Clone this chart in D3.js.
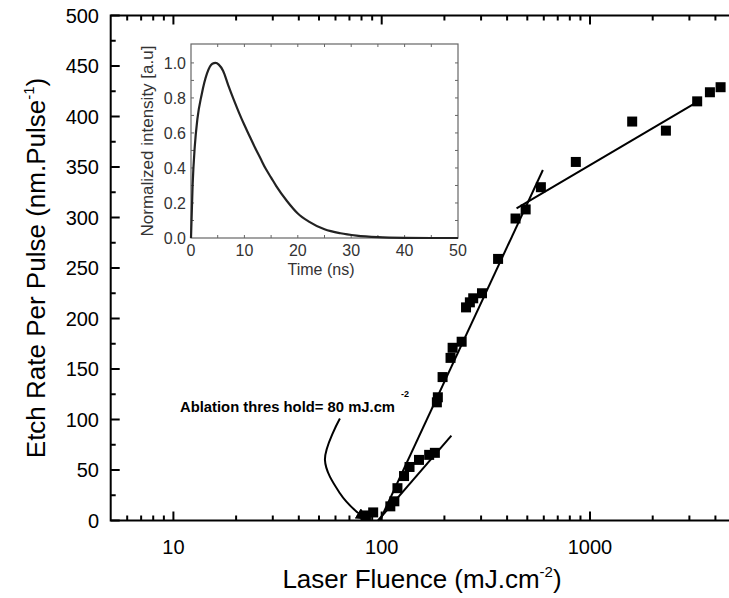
<!DOCTYPE html>
<html><head><meta charset="utf-8">
<script src="https://cdn.jsdelivr.net/npm/d3@7"></script>
<style>html,body{margin:0;padding:0;background:#fff;} svg{display:block;}</style>
</head><body>
<svg id="c" width="729" height="598"></svg>
<script>
// ---- data ----
const fluence = [84, 91, 110, 115, 119, 128, 136, 151, 169, 180, 184, 186, 196, 214, 219, 242, 254, 265, 275, 303, 362, 439, 491, 581, 855, 1594, 2314, 3270, 3764, 4236];
const etchRate = [5, 8, 14, 19, 32, 44, 53, 60, 65, 67, 117, 122, 142, 161, 171, 177, 211, 216, 220, 225, 259, 299, 308, 330, 355, 395, 386, 415, 424, 429];
const lowFitX = [96, 216], lowFitY = [0, 84];
const steepFitX = [98, 594], steepFitY = [0, 347];
const highFitX = [444, 3370], highFitY = [309, 416];
const arrowX = [63, 53.4, 63, 75.8, 85], arrowY = [101, 60, 27, 8.7, 1.5];
const xMajor = [10, 100, 1000];
const xTickLabels = ["10", "100", "1000"];
const yMajor = [0, 50, 100, 150, 200, 250, 300, 350, 400, 450, 500];
// inset pulse
const pulseT = [0, 0.3, 0.7, 1.2, 2, 3, 4, 4.6, 5.2, 6, 7, 8, 9, 10, 11, 12, 13, 14, 15, 16, 18, 20, 22, 25, 28, 31, 35, 40, 45, 50];
const pulseI = [0, 0.3, 0.52, 0.68, 0.82, 0.94, 0.995, 1.0, 0.99, 0.955, 0.87, 0.79, 0.715, 0.645, 0.58, 0.515, 0.455, 0.395, 0.345, 0.295, 0.21, 0.14, 0.095, 0.05, 0.027, 0.014, 0.005, 0.001, 0, 0];
const insetXTicks = [0, 10, 20, 30, 40, 50];
const insetYTicks = [0, 0.2, 0.4, 0.6, 0.8, 1.0];

const svg = d3.select("#c");
const font = "'Liberation Sans', Arial, sans-serif";
const L = 110.7, R = 735.6, T = 15.5, B = 520.5;
const x = d3.scaleLog().domain([5, 5000]).range([L, R]);
const y = d3.scaleLinear().domain([0, 500]).range([B, T]);

const xMinor = [];
[1, 10, 100, 1000].forEach(d => { for (let k = 2; k <= 9; k++) { const v = d * k; if (v > 5 && v < 5000) xMinor.push(v); } });
const yMinor = d3.range(25, 500, 50);

const g = svg.append("g");
g.append("rect").attr("x", L).attr("y", T).attr("width", R - L).attr("height", B - T)
  .attr("fill", "none").attr("stroke", "#000").attr("stroke-width", 2);

function xt(vals, len) {
  g.selectAll(null).data(vals).enter().append("line")
    .attr("x1", d => x(d)).attr("x2", d => x(d)).attr("y1", B).attr("y2", B - len)
    .attr("stroke", "#000").attr("stroke-width", 2);
  g.selectAll(null).data(vals).enter().append("line")
    .attr("x1", d => x(d)).attr("x2", d => x(d)).attr("y1", T).attr("y2", T + len)
    .attr("stroke", "#000").attr("stroke-width", 2);
}
xt(xMajor, 9); xt(xMinor, 5);
function yt(vals, len) {
  g.selectAll(null).data(vals).enter().append("line")
    .attr("x1", L).attr("x2", L + len).attr("y1", d => y(d)).attr("y2", d => y(d))
    .attr("stroke", "#000").attr("stroke-width", 2);
}
yt(yMajor, 9); yt(yMinor, 5);

g.selectAll(null).data(xMajor).enter().append("text")
  .attr("x", d => x(d)).attr("y", 554).attr("text-anchor", "middle")
  .attr("font-family", font).attr("font-size", 20).text((d, i) => xTickLabels[i]);
g.selectAll(null).data(yMajor).enter().append("text")
  .attr("x", 99).attr("y", d => y(d) + 7).attr("text-anchor", "end")
  .attr("font-family", font).attr("font-size", 20).text(d => d);

const xt1 = svg.append("text").attr("x", 422).attr("y", 588).attr("text-anchor", "middle")
  .attr("font-family", font).attr("font-size", 26);
xt1.append("tspan").text("Laser Fluence (mJ.cm");
xt1.append("tspan").attr("font-size", 15).attr("dy", -11).text("-2");
xt1.append("tspan").attr("dy", 11).text(")");
const yt1 = svg.append("text").attr("transform", "translate(45,268) rotate(-90)").attr("text-anchor", "middle")
  .attr("font-family", font).attr("font-size", 26);
yt1.append("tspan").text("Etch Rate Per Pulse (nm.Pulse");
yt1.append("tspan").attr("font-size", 15).attr("dy", -11).text("-1");
yt1.append("tspan").attr("dy", 11).text(")");

const line = d3.line().x(d => x(d[0])).y(d => y(d[1]));
[[lowFitX, lowFitY], [steepFitX, steepFitY], [highFitX, highFitY]].forEach(([xs, ys]) => {
  g.append("path").attr("d", line(xs.map((v, i) => [v, ys[i]])))
    .attr("fill", "none").attr("stroke", "#000").attr("stroke-width", 2);
});

const s = 10;
g.selectAll(null).data(fluence).enter().append("rect")
  .attr("x", (d) => x(d) - s / 2).attr("y", (d, i) => y(etchRate[i]) - s / 2)
  .attr("width", s).attr("height", s).attr("fill", "#000");

svg.append("text").attr("x", 180).attr("y", 412)
  .attr("font-family", font).attr("font-size", 14.8).attr("font-weight", "bold")
  .text("Ablation thres hold= 80 mJ.cm");
svg.append("text").attr("x", 401).attr("y", 397)
  .attr("font-family", font).attr("font-size", 9).attr("font-weight", "bold").text("-2");
const arrowPts = arrowX.map((v, i) => [v, arrowY[i]]);
const curve = d3.line().x(d => x(d[0])).y(d => y(d[1])).curve(d3.curveCatmullRom);
svg.append("defs").append("marker").attr("id", "ah").attr("viewBox", "0 0 10 10")
  .attr("refX", 9).attr("refY", 5).attr("markerWidth", 6).attr("markerHeight", 6).attr("orient", "auto")
  .append("path").attr("d", "M0,0L10,5L0,10z").attr("fill", "#000");
svg.append("path").attr("d", curve(arrowPts)).attr("fill", "none").attr("stroke", "#000")
  .attr("stroke-width", 2).attr("marker-end", "url(#ah)");

// ---- inset ----
const iL = 191, iR = 458, iT = 44, iB = 238;
const ix = d3.scaleLinear().domain([0, 50]).range([iL, iR]);
const iy = d3.scaleLinear().domain([0, 1.108]).range([iB, iT]);
const ig = svg.append("g");
const gray = "#333";
ig.append("rect").attr("x", iL).attr("y", iT).attr("width", iR - iL).attr("height", iB - iT)
  .attr("fill", "#fff").attr("stroke", "#666").attr("stroke-width", 1.2);
const ixt = d3.range(5, 50, 5), iyt = d3.range(1, 11).map(k => k / 10);
ixt.forEach(v => {
  ig.append("line").attr("x1", ix(v)).attr("x2", ix(v)).attr("y1", iB).attr("y2", iB - 3).attr("stroke", "#666");
  ig.append("line").attr("x1", ix(v)).attr("x2", ix(v)).attr("y1", iT).attr("y2", iT + 3).attr("stroke", "#666");
});
iyt.forEach(v => {
  ig.append("line").attr("x1", iL).attr("x2", iL + 3).attr("y1", iy(v)).attr("y2", iy(v)).attr("stroke", "#666");
  ig.append("line").attr("x1", iR).attr("x2", iR - 3).attr("y1", iy(v)).attr("y2", iy(v)).attr("stroke", "#666");
});
ig.selectAll(null).data(insetXTicks).enter().append("text")
  .attr("x", d => ix(d)).attr("y", 256).attr("text-anchor", "middle")
  .attr("font-family", font).attr("font-size", 16).attr("fill", gray).text(d => d);
ig.selectAll(null).data(insetYTicks).enter().append("text")
  .attr("x", 186).attr("y", d => iy(d) + 6).attr("text-anchor", "end")
  .attr("font-family", font).attr("font-size", 16).attr("fill", gray).text(d => d.toFixed(1));
ig.append("text").attr("x", 321).attr("y", 275).attr("text-anchor", "middle")
  .attr("font-family", font).attr("font-size", 16).attr("fill", gray).text("Time (ns)");
ig.append("text").attr("transform", "translate(153,141) rotate(-90)").attr("text-anchor", "middle")
  .attr("font-family", font).attr("font-size", 17).attr("fill", gray).text("Normalized intensity [a.u]");
const pl = d3.line().x(d => ix(d[0])).y(d => iy(d[1])).curve(d3.curveMonotoneX);
ig.append("path").attr("d", pl(pulseT.map((t, i) => [t, pulseI[i]])))
  .attr("fill", "none").attr("stroke", "#222").attr("stroke-width", 2.2);
</script>
</body></html>
